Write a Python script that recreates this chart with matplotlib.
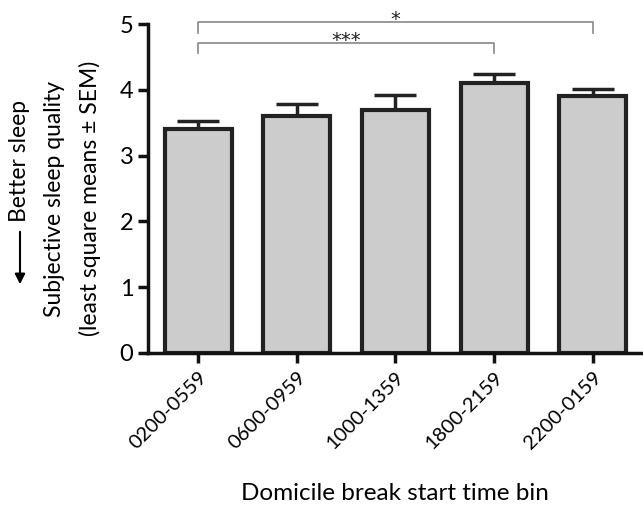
import matplotlib
matplotlib.use("Agg")
import matplotlib.pyplot as plt
import numpy as np

categories = ["0200-0559", "0600-0959", "1000-1359", "1800-2159", "2200-0159"]
means = [3.40, 3.60, 3.70, 4.10, 3.90]
sems = [0.13, 0.18, 0.22, 0.14, 0.12]
yticks = [0, 1, 2, 3, 4, 5]
brackets = [(0, 4, 5.03, 4.86, "*"), (0, 3, 4.71, 4.56, "***")]

plt.rcParams['font.family'] = ['Lato', 'DejaVu Sans']

fig = plt.figure(figsize=(6.43, 5.13), dpi=100)
ax = fig.add_axes([0.230, 0.312, 0.77, 0.641])

x = np.arange(len(categories))
ax.bar(x, means, width=0.68, color="#cccccc", edgecolor="#222222", linewidth=3, zorder=2)
ax.errorbar(x, means, yerr=[np.zeros(len(sems)), sems], fmt="none", ecolor="#222222",
            elinewidth=2.5, capsize=15, capthick=2.5, zorder=1)

for x0, x1, ytop, ybot, lab in brackets:
    ax.plot([x0, x0, x1, x1], [ybot, ytop, ytop, ybot], color="#888888", lw=1.2, clip_on=False)
    ax.annotate(lab, xy=((x0 + x1) / 2, ytop), xytext=(0, -2.2), textcoords="offset points",
                ha="center", va="baseline", fontsize=14, color="#222222", family="DejaVu Sans",
                annotation_clip=False)

ax.set_xlim(-0.51, 4.51)
ax.set_ylim(0, 5)
ax.set_yticks(yticks)
ax.set_yticklabels([str(t) for t in yticks], fontsize=17)
ax.set_xticks(x)
ax.set_xticklabels(categories, rotation=45, ha="right", rotation_mode="anchor", fontsize=14.5)
for s in ["top", "right"]:
    ax.spines[s].set_visible(False)
for s in ["left", "bottom"]:
    ax.spines[s].set_linewidth(2.5)
    ax.spines[s].set_color("#111111")
ax.tick_params(axis="both", direction="out", width=2.5, length=7, color="#111111")
ax.tick_params(axis="x", pad=4)

fig.text(395 / 643, 1 - 493 / 513, "Domicile break start time bin", ha="center", va="center", fontsize=17.5)

fig.text(55 / 643, 1 - 199 / 513, "Subjective sleep quality", rotation=90, ha="center", va="center", fontsize=16.5)
fig.text(90 / 643, 1 - 198 / 513, "(least square means ± SEM)", rotation=90, ha="center", va="center", fontsize=16.5)
fig.text(20 / 643, 1 - 161 / 513, "Better sleep", rotation=90, ha="center", va="center", fontsize=16.5)
fig.add_artist(matplotlib.patches.FancyArrowPatch((20 / 643, 1 - 229 / 513), (20 / 643, 1 - 287 / 513),
               transform=fig.transFigure, arrowstyle="-|>", mutation_scale=15, color="black", lw=1.5))

fig.savefig("out.png", dpi=100)
